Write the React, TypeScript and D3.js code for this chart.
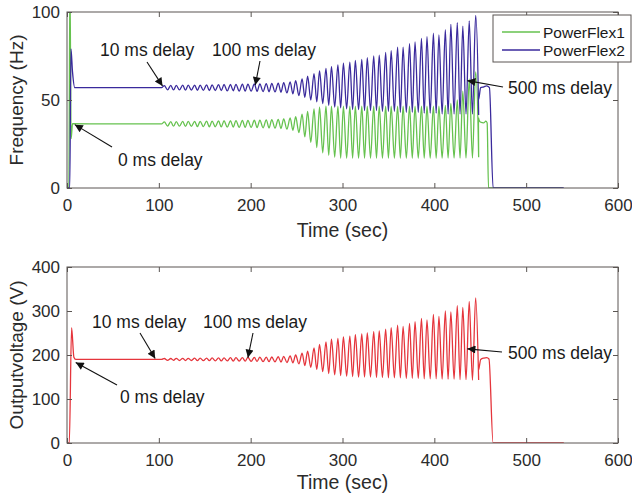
import React, { useEffect, useRef } from "react";
import * as d3 from "d3";

// peak times of each oscillation cycle (sec)
const cycleTimes = [
  106, 113, 119, 126, 132, 139, 145, 152, 158, 165, 171, 178, 184, 191, 197, 204, 210, 217,
  223, 230, 236, 243, 249, 256, 262, 269, 275, 282, 288, 295, 301, 308, 314, 321, 327, 334,
  340, 347, 353, 360, 366, 373, 379, 386, 392, 399, 405, 412, 418, 425, 431, 438, 445,
];

// PowerFlex1 frequency (Hz) – peaks / troughs of each cycle
const pf1High = [
  37.6, 37.7, 37.7, 37.8, 37.8, 37.9, 37.9, 38, 38, 38.1, 38.2, 38.2, 38.3, 38.4, 38.4, 38.5,
  38.6, 38.7, 38.8, 39, 39.3, 39.8, 40.5, 42, 43.5, 45, 46, 46.5, 46.5, 46.5, 46.5, 46.5, 46.5,
  46.5, 46.5, 46.5, 46.5, 46.5, 46.5, 46.5, 46.5, 46.5, 46.5, 46.5, 46.5, 46.5, 46.5, 47, 48,
  50, 55, 62, 66,
];
const pf1Low = [
  35.2, 35.1, 35.1, 35, 35, 34.9, 34.9, 34.8, 34.8, 34.7, 34.6, 34.6, 34.5, 34.4, 34.4, 34.3,
  34.2, 34.1, 34, 33.8, 33.4, 32.8, 31.5, 29, 26, 23, 20, 18.5, 17.5, 17, 17, 17, 17, 17, 17,
  17, 17, 17, 17, 17, 17, 17, 17, 17, 17, 17, 17, 17, 17, 17, 17, 17, 17.5,
];
const pf1Start = [[0, 0], [2, 0], [3.2, 118], [4.5, 28], [6, 36.5], [103, 36.4]];
const pf1End = [[448, 40], [450, 37.5], [454, 37], [456, 38], [457.5, 37], [459, 0], [540, 0]];

// PowerFlex2 frequency (Hz)
const pf2High = [
  58.2, 58.3, 58.3, 58.4, 58.4, 58.5, 58.5, 58.6, 58.6, 58.7, 58.8, 58.8, 58.9, 59, 59, 59.1,
  59.2, 59.3, 59.4, 59.6, 59.9, 60.3, 61, 62, 63.5, 65, 66.5, 68, 69, 70, 71, 71.5, 72.5, 73,
  74, 75, 75.5, 77, 78, 80, 80, 82, 83, 85, 86, 88, 87, 90, 93, 94, 92, 95, 98,
];
const pf2Low = [
  55.8, 55.7, 55.7, 55.6, 55.6, 55.5, 55.5, 55.4, 55.4, 55.3, 55.2, 55.2, 55.1, 55, 55, 54.9,
  54.8, 54.7, 54.6, 54.4, 54, 53.5, 52.5, 51.5, 50, 49, 48, 47, 46, 45.5, 45, 44.5, 44.5, 44,
  44, 44, 43.5, 43.5, 43.5, 43, 43, 43, 43, 42.5, 42.5, 42.5, 42, 42, 42, 42, 42, 42, 41.5,
];
const pf2Start = [[0, 0], [3, 0], [4.3, 79], [6, 66], [8.5, 57], [103, 57]];
const pf2End = [[448, 50], [450.5, 57], [454, 57.5], [457, 58], [460, 57], [464, 0], [541, 0]];

// output voltage (V)
const voltHigh = [
  192, 192, 192.5, 192.5, 192.5, 193, 193, 193, 193.5, 193.5, 193.5, 194, 194, 194, 194.5,
  194.5, 195, 195, 195.5, 196, 197, 198, 200, 204, 209, 216, 224, 230, 236, 238, 241, 243, 246,
  248, 250, 253, 255, 259, 262, 268, 265, 272, 276, 283, 280, 292, 288, 300, 298, 312, 308, 322,
  330,
];
const voltLow = [
  188, 188, 187.5, 187.5, 187.5, 187, 187, 187, 186.5, 186.5, 186.5, 186, 186, 186, 185.5,
  185.5, 185, 185, 184.5, 184, 183, 182, 180, 176, 172, 167, 162, 158, 155, 153, 152, 151, 150,
  150, 150, 149, 149, 148, 148, 148, 147, 147, 147, 146, 146, 146, 145, 145, 145, 144, 144, 143,
  143,
];
const voltStart = [[0, 0], [2.5, 0], [5, 262], [7.5, 195], [9.5, 190], [103, 190]];
const voltEnd = [[448, 165], [450.5, 190], [454, 193], [457, 194], [459.5, 191], [464, 0], [541, 0]];

const xTicks = [0, 100, 200, 300, 400, 500, 600];
const freqTicks = [0, 50, 100];
const voltTicks = [0, 100, 200, 300, 400];

const legendItems = [
  { name: "PowerFlex1", color: "#66c24f" },
  { name: "PowerFlex2", color: "#3a2a9c" },
];

const buildSeries = (start, high, low, end) => {
  const pts = start.slice();
  cycleTimes.forEach((t, i) => {
    pts.push([t, high[i]]);
    const next = i < cycleTimes.length - 1 ? cycleTimes[i + 1] : t + 6.5;
    pts.push([(t + next) / 2, low[i]]);
  });
  return pts.concat(end);
};

const FONT = "'Liberation Sans', Arial, sans-serif";

const App = () => {
  const svgRef = useRef();

  useEffect(() => {
    const svg = d3.select(svgRef.current);
    svg.selectAll("*").remove();

    svg
      .append("defs")
      .append("marker")
      .attr("id", "arrowHead")
      .attr("viewBox", "0 0 10 10")
      .attr("refX", 10)
      .attr("refY", 5)
      .attr("markerWidth", 11)
      .attr("markerHeight", 8)
      .attr("markerUnits", "userSpaceOnUse")
      .attr("orient", "auto")
      .append("path")
      .attr("d", "M0,0 L10,5 L0,10 Z")
      .attr("fill", "#111");

    const drawPanel = ({ id, top, bottom, yDomain, yTicks, yLabel, labelGap, series, notes }) => {
      const left = 67;
      const right = 618;
      const x = d3.scaleLinear().domain([0, 600]).range([left, right]);
      const y = d3.scaleLinear().domain(yDomain).range([bottom, top]);

      svg
        .append("clipPath")
        .attr("id", id)
        .append("rect")
        .attr("x", left)
        .attr("y", top)
        .attr("width", right - left)
        .attr("height", bottom - top);

      const line = d3
        .line()
        .x((d) => x(d[0]))
        .y((d) => y(d[1]))
        .curve(d3.curveMonotoneX);

      series.forEach((s) => {
        svg
          .append("path")
          .attr("clip-path", `url(#${id})`)
          .attr("d", line(s.points))
          .attr("fill", "none")
          .attr("stroke", s.color)
          .attr("stroke-width", 1.3);
      });

      // box
      svg
        .append("rect")
        .attr("x", left)
        .attr("y", top)
        .attr("width", right - left)
        .attr("height", bottom - top)
        .attr("fill", "none")
        .attr("stroke", "#5a5552")
        .attr("stroke-width", 1);

      const styleAxis = (g) => {
        g.select(".domain").remove();
        g.selectAll(".tick line").attr("stroke", "#5a5552");
        g.selectAll("text")
          .attr("fill", "#2b2b2b")
          .style("font-size", "17px")
          .style("font-family", FONT);
      };

      svg
        .append("g")
        .attr("transform", `translate(0,${bottom})`)
        .call(d3.axisBottom(x).tickValues(xTicks).tickSize(-5).tickPadding(11))
        .call(styleAxis);
      svg
        .append("g")
        .attr("transform", `translate(0,${top})`)
        .call(d3.axisTop(x).tickValues(xTicks).tickSize(-5).tickFormat(() => ""))
        .call(styleAxis);
      svg
        .append("g")
        .attr("transform", `translate(${left},0)`)
        .call(d3.axisLeft(y).tickValues(yTicks).tickSize(-5).tickPadding(7))
        .call(styleAxis);
      svg
        .append("g")
        .attr("transform", `translate(${right},0)`)
        .call(d3.axisRight(y).tickValues(yTicks).tickSize(-5).tickFormat(() => ""))
        .call(styleAxis);

      svg
        .append("text")
        .attr("x", (left + right) / 2)
        .attr("y", bottom + labelGap)
        .attr("text-anchor", "middle")
        .attr("fill", "#2b2b2b")
        .style("font-size", "19.5px")
        .style("font-family", FONT)
        .text("Time (sec)");

      svg
        .append("text")
        .attr("transform", `translate(23,${(top + bottom) / 2}) rotate(-90)`)
        .attr("text-anchor", "middle")
        .attr("fill", "#2b2b2b")
        .style("font-size", "19px")
        .style("font-family", FONT)
        .text(yLabel);

      notes.forEach((n) => {
        svg
          .append("text")
          .attr("x", n.tx)
          .attr("y", n.ty)
          .attr("fill", "#1a1a1a")
          .style("font-size", "17.5px")
          .style("font-family", FONT)
          .text(n.label);
        svg
          .append("line")
          .attr("x1", n.ax)
          .attr("y1", n.ay)
          .attr("x2", x(n.px))
          .attr("y2", y(n.py))
          .attr("stroke", "#111")
          .attr("stroke-width", 1.1)
          .attr("marker-end", "url(#arrowHead)");
      });
    };

    drawPanel({
      id: "clipFreq",
      top: 12,
      bottom: 188,
      yDomain: [0, 100],
      yTicks: freqTicks,
      yLabel: "Frequency (Hz)",
      labelGap: 49,
      series: [
        { color: legendItems[0].color, points: buildSeries(pf1Start, pf1High, pf1Low, pf1End) },
        { color: legendItems[1].color, points: buildSeries(pf2Start, pf2High, pf2Low, pf2End) },
      ],
      notes: [
        { label: "10 ms delay", tx: 100, ty: 56, ax: 147, ay: 62, px: 104, py: 58 },
        { label: "100 ms delay", tx: 212, ty: 56, ax: 260, ay: 61, px: 205, py: 58.5 },
        { label: "0 ms delay", tx: 118, ty: 166, ax: 112, ay: 147, px: 8.5, py: 36 },
        { label: "500 ms delay", tx: 508, ty: 94, ax: 503, ay: 87, px: 436, py: 61 },
      ],
    });

    drawPanel({
      id: "clipVolt",
      top: 267,
      bottom: 443,
      yDomain: [0, 400],
      yTicks: voltTicks,
      yLabel: "Outputvoltage (V)",
      labelGap: 46,
      series: [{ color: "#e5353c", points: buildSeries(voltStart, voltHigh, voltLow, voltEnd) }],
      notes: [
        { label: "10 ms delay", tx: 92, ty: 328, ax: 140, ay: 333, px: 96, py: 192 },
        { label: "100 ms delay", tx: 203, ty: 328, ax: 253, ay: 333, px: 197, py: 194 },
        { label: "0 ms delay", tx: 120, ty: 403, ax: 117, ay: 385, px: 9.5, py: 183 },
        { label: "500 ms delay", tx: 508, ty: 359, ax: 502, ay: 352, px: 436, py: 214 },
      ],
    });

    // legend
    const lg = svg.append("g").attr("transform", "translate(493,15)");
    lg.append("rect")
      .attr("width", 138)
      .attr("height", 47)
      .attr("fill", "#fff")
      .attr("stroke", "#5a5552")
      .attr("stroke-width", 1);
    legendItems.forEach((item, i) => {
      const cy = 17 + i * 18;
      lg.append("line")
        .attr("x1", 9)
        .attr("x2", 47)
        .attr("y1", cy)
        .attr("y2", cy)
        .attr("stroke", item.color)
        .attr("stroke-width", 1.3);
      lg.append("text")
        .attr("x", 50)
        .attr("y", cy + 5.5)
        .attr("fill", "#1a1a1a")
        .style("font-size", "15.5px")
        .style("font-family", FONT)
        .text(item.name);
    });
  }, []);

  return (
    <div style={{ position: "absolute", left: 0, top: 0, background: "#fff" }}>
      <svg ref={svgRef} width={632} height={499} style={{ display: "block" }} />
    </div>
  );
};

export default App;
